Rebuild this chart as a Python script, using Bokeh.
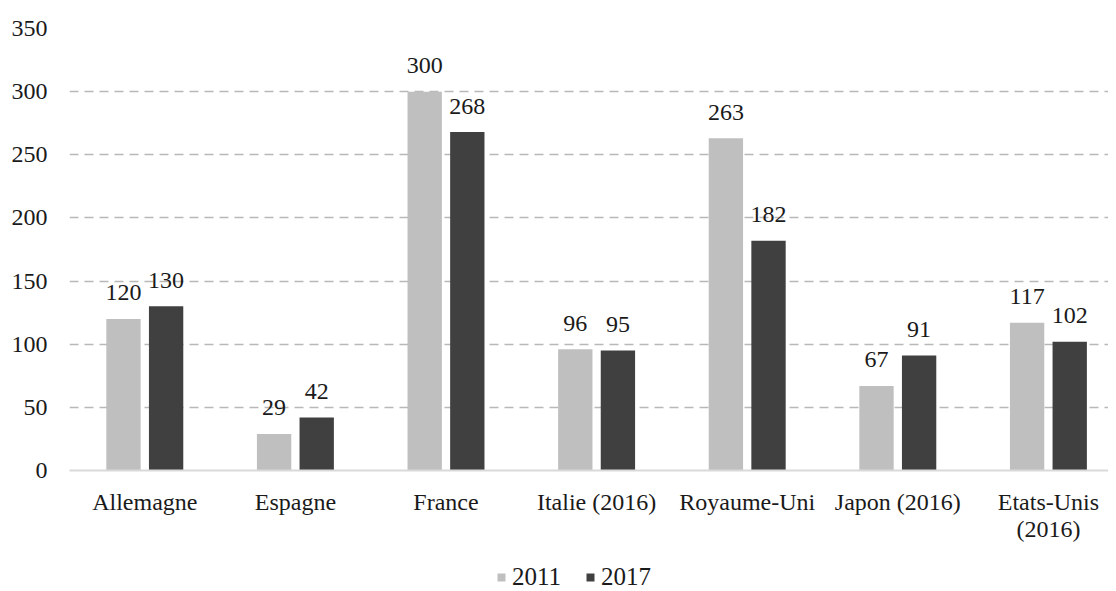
from bokeh.plotting import figure
from bokeh.models import Range1d, FixedTicker, Legend, LegendItem, ColumnDataSource
from bokeh.layouts import column
from bokeh.transform import dodge
from bokeh.embed import file_html
from bokeh.resources import INLINE
from bokeh.core.properties import value

categories = ["Allemagne", "Espagne", "France", "Italie (2016)", "Royaume-Uni",
              "Japon (2016)", "Etats-Unis\n(2016)"]
series_2011 = [120, 29, 300, 96, 263, 67, 117]
series_2017 = [130, 42, 268, 95, 182, 91, 102]
y_ticks = [0, 50, 100, 150, 200, 250, 300, 350]
series_names = ["2011", "2017"]

FONT = "Liberation Serif"
FS = "24px"
TXT = "#1a1a1a"
LIGHT = "#bfbfbf"
DARK = "#404040"

idx = list(range(len(categories)))
off = 0.1415
bw = 0.228

src = ColumnDataSource(dict(
    x=idx, a=series_2011, b=series_2017,
    la=[str(v) for v in series_2011], lb=[str(v) for v in series_2017],
))

p = figure(frame_width=1039, frame_height=442,
           x_range=Range1d(-0.5, 6.399), y_range=Range1d(0, 350),
           output_backend="svg", toolbar_location=None,
           min_border_left=69, min_border_right=0, min_border_top=28,
           min_border_bottom=80)
p.outline_line_color = None
p.background_fill_color = "white"
p.border_fill_color = "white"

r1 = p.vbar(x=dodge("x", -off), top="a", width=bw, source=src,
            fill_color=LIGHT, line_color=None)
r2 = p.vbar(x=dodge("x", off), top="b", width=bw, source=src,
            fill_color=DARK, line_color=None)

p.text(x=dodge("x", -off), y="a", text="la", source=src, text_align="center",
       text_baseline="alphabetic", y_offset=-26, text_font=value(FONT),
       text_font_size=FS, text_color=TXT)
p.text(x=dodge("x", off), y="b", text="lb", source=src, text_align="center",
       text_baseline="alphabetic", y_offset=-26, text_font=value(FONT),
       text_font_size=FS, text_color=TXT)

# axes
p.xaxis.ticker = FixedTicker(ticks=idx)
p.xaxis.major_label_overrides = {i: c for i, c in zip(idx, categories)}
p.xaxis.major_tick_line_color = None
p.xaxis.minor_tick_line_color = None
p.xaxis.axis_line_color = "#d9d9d9"
p.xaxis.axis_line_width = 2
p.xaxis.major_label_text_font = FONT
p.xaxis.major_label_text_font_size = FS
p.xaxis.major_label_text_color = TXT
p.xaxis.major_label_text_line_height = 1.05
p.xaxis.major_label_standoff = 12

p.yaxis.ticker = FixedTicker(ticks=y_ticks)
p.yaxis.major_tick_line_color = None
p.yaxis.minor_tick_line_color = None
p.yaxis.axis_line_color = None
p.yaxis.major_label_text_font = FONT
p.yaxis.major_label_text_font_size = FS
p.yaxis.major_label_text_color = TXT
p.yaxis.major_label_standoff = 16

p.xgrid.grid_line_color = None
p.ygrid.ticker = FixedTicker(ticks=y_ticks[1:])
p.ygrid.grid_line_color = "#b8b8b8"
p.ygrid.grid_line_width = 1.4
p.ygrid.grid_line_dash = "9 6"

# legend strip below the chart (its renderers lie outside its visible range)
pl = figure(width=1108, height=41, x_range=Range1d(-100, -99), y_range=Range1d(0, 1),
            output_backend="svg", toolbar_location=None,
            min_border_left=0, min_border_right=0, min_border_top=0,
            min_border_bottom=0)
pl.axis.visible = False
pl.grid.visible = False
pl.outline_line_color = None
l1 = pl.vbar(x="x", top="a", width=bw, source=src, fill_color=LIGHT, line_color=None)
l2 = pl.vbar(x="x", top="b", width=bw, source=src, fill_color=DARK, line_color=None)
legend = Legend(items=[LegendItem(label=series_names[0], renderers=[l1]),
                       LegendItem(label=series_names[1], renderers=[l2])],
                orientation="horizontal", location=(427, 0),
                label_text_font=FONT, label_text_font_size="25px",
                label_text_color=TXT, glyph_width=10, glyph_height=10,
                label_standoff=6, spacing=24, border_line_color=None,
                background_fill_alpha=0, padding=0, margin=0)
pl.add_layout(legend, "center")

layout = column(p, pl, spacing=0)
open("out.html", "w").write(file_html(layout, INLINE))
